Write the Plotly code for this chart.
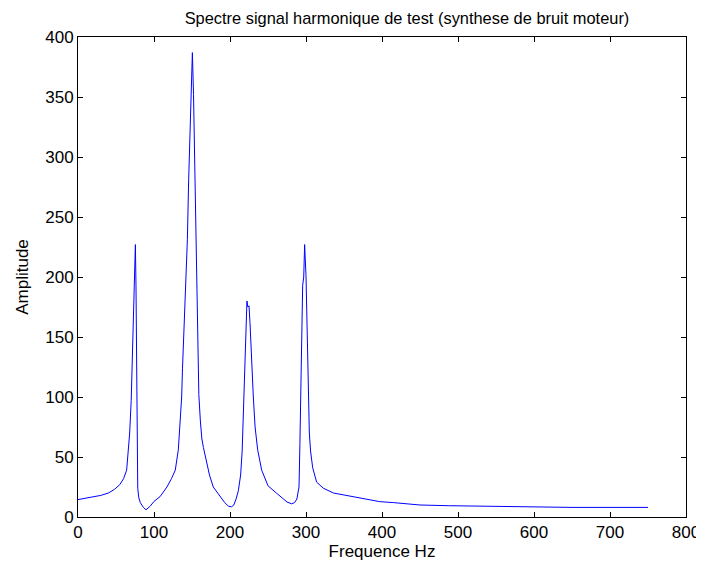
"""Spectre d'un signal harmonique de test (synthese de bruit moteur)"""

import plotly.graph_objects as go

freq = [
    0, 10, 20, 30, 40, 48, 55, 60, 64, 66, 68, 70, 71, 72, 73.3, 74.5, 75.5, 76.3,
    77.1, 78.0, 78.6, 80, 82, 86, 89.5, 95, 100, 108, 113, 117, 123, 128, 132, 134,
    136.4, 137.5, 139, 141, 143.9, 145.6, 147.4, 149, 150.5, 152, 154, 156, 157.5,
    159, 161, 163, 165, 169, 173, 178, 187, 193, 198, 202, 205, 208, 211, 214, 216,
    217.5, 219, 220.6, 222.3, 223.5, 225, 226.3, 228.5, 230.7, 233, 236.4, 241.7,
    250, 261, 270, 275, 281, 285, 288, 290.8, 292, 293.4, 295.6, 297, 298.2, 300,
    301.8, 303, 304.4, 306, 308.8, 314, 322.8, 336, 362, 397, 415, 437, 450, 489,
    530, 566, 650, 750,
]
amplitude = [
    14.5, 15.5, 16.5, 18, 20, 23, 27, 32, 39, 55, 70, 97, 125, 150, 175, 201, 227, 193,
    125, 60, 24, 16, 12, 8, 6, 9, 13, 17, 21, 25, 32, 39, 56, 75,
    100, 124, 150, 178, 231, 281, 322, 365, 387, 352, 283, 214, 145,
    102, 80, 65, 58, 45, 35, 25, 17, 12, 9, 8.5, 10, 15, 22, 35, 55,
    85, 125, 164, 180, 175, 176, 162, 128, 100, 75, 56, 39,
    26, 20, 15, 12.5, 11, 12, 15, 25, 61, 125, 193, 200, 227, 201,
    150, 99, 70, 55, 41, 29, 24, 20, 17, 12.8, 12, 11, 10, 9.4,
    9, 8.3, 8, 8,
]

x_ticks = [0, 100, 200, 300, 400, 500, 600, 700, 800]
y_ticks = [0, 50, 100, 150, 200, 250, 300, 350, 400]

FONT = "Liberation Sans"

fig = go.Figure()
fig.add_trace(go.Scatter(
    x=freq, y=amplitude, mode="lines",
    line=dict(color="rgb(0,0,255)", width=1),
    showlegend=False,
))

axis_style = dict(
    showgrid=False, zeroline=False,
    showline=True, linecolor="black", linewidth=1, mirror="ticks",
    ticks="inside", ticklen=5, tickcolor="black", tickwidth=1,
    tickfont=dict(family=FONT, size=17, color="black"),
)

# la page a une marge de 8 px autour de la figure
fig.update_layout(
    width=704, height=571,
    margin=dict(l=70, r=26, t=29, b=62),
    paper_bgcolor="white", plot_bgcolor="white",
    font=dict(family=FONT, size=17, color="black"),
    title=dict(
        text="Spectre signal harmonique de test (synthese de bruit moteur)",
        x=(407 - 8) / 704, xanchor="center",
        y=1 - 10 / 571, yanchor="middle",
        font=dict(family=FONT, size=16.4, color="black"),
    ),
    xaxis=dict(
        range=[0, 800], tickvals=x_ticks,
        title=dict(text="Frequence Hz", standoff=3, font=dict(family=FONT, size=17)),
        **axis_style,
    ),
    yaxis=dict(
        range=[0, 400], tickvals=y_ticks,
        title=dict(text="Amplitude", standoff=12, font=dict(family=FONT, size=17)),
        **axis_style,
    ),
)

fig.write_html("out.html")
